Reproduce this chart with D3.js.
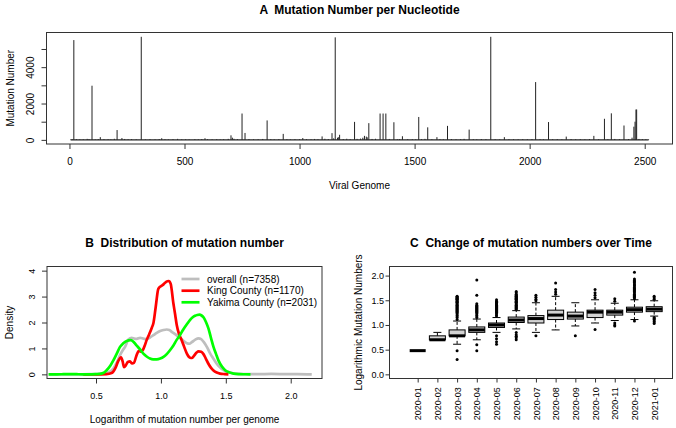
<!DOCTYPE html>
<html><head><meta charset="utf-8">
<script src="https://cdn.jsdelivr.net/npm/d3@7"></script>
<style>
body{margin:0;background:#fff}
svg text{font-family:"Liberation Sans",Arial,sans-serif;fill:#000}
</style></head><body>
<svg id="c" width="676" height="428"></svg>
<script>
// ---------- Panel A: mutation number per nucleotide ----------
const spikePos   = [19, 98, 207, 312, 702, 750, 763, 859, 929, 1098, 1141, 1155, 1174, 1239, 1282, 1301, 1350, 1363, 1375, 1410, 1447, 1518, 1557, 1597, 1643, 1737, 1831, 1890, 2026, 2082, 2159, 2279, 2325, 2355, 2410, 2453, 2458, 2462, 2465];
const spikeCount = [5490, 2980, 540, 5670, 250, 1450, 380, 1070, 330, 190, 370, 5640, 280, 990, 220, 920, 1450, 1450, 1450, 970, 200, 1260, 690, 150, 770, 565, 5670, 150, 3180, 980, 180, 220, 1160, 1460, 790, 725, 1000, 1670, 1670];
const lowPos   = [5, 12, 30, 45, 60, 77, 85, 112, 125, 134, 150, 168, 180, 195, 228, 240, 255, 270, 290, 330, 350, 372, 390, 401, 415, 430, 450, 470, 488, 505, 520, 545, 560, 575, 589, 600, 620, 640, 655, 670, 690, 708, 715, 730, 780, 800, 820, 840, 875, 890, 910, 945, 960, 980, 1000, 1014, 1030, 1050, 1065, 1080, 1110, 1125, 1148, 1165, 1170, 1190, 1205, 1220, 1250, 1265, 1275, 1290, 1294, 1315, 1330, 1390, 1425, 1435, 1470, 1490, 1505, 1530, 1545, 1575, 1610, 1625, 1660, 1680, 1700, 1715, 1755, 1770, 1790, 1810, 1850, 1870, 1910, 1930, 1950, 1970, 1990, 2010, 2045, 2060, 2100, 2120, 2140, 2180, 2200, 2220, 2240, 2260, 2300, 2340, 2370, 2390, 2430, 2445, 2475, 2490, 2505, 2517];
const lowCount = [20, 35, 40, 25, 30, 55, 40, 30, 45, 150, 40, 35, 25, 60, 100, 50, 35, 40, 30, 25, 40, 30, 45, 90, 35, 25, 40, 55, 30, 35, 25, 40, 30, 45, 90, 35, 30, 40, 25, 35, 55, 120, 60, 40, 45, 30, 35, 50, 40, 30, 45, 35, 30, 40, 35, 100, 40, 30, 50, 35, 60, 45, 80, 120, 150, 45, 60, 40, 55, 70, 120, 180, 140, 50, 60, 50, 35, 45, 40, 35, 30, 40, 55, 35, 40, 30, 45, 35, 40, 55, 35, 30, 45, 40, 35, 30, 40, 35, 30, 40, 35, 45, 40, 30, 35, 40, 30, 45, 35, 40, 30, 45, 40, 35, 50, 40, 45, 120, 50, 40, 35, 30];
const xTicksA = [0, 500, 1000, 1500, 2000, 2500];
const yTicksA = [0, 1000, 2000, 3000, 4000, 5000];
const yLabelsA = [0, 2000, 4000];

// ---------- Panel B: density of log mutation number ----------
const overallX = [0.135, 0.3, 0.45, 0.55, 0.6, 0.634, 0.66, 0.685, 0.705, 0.724, 0.75, 0.775, 0.795, 0.814, 0.84, 0.865, 0.89, 0.915, 0.942, 0.968, 0.994, 1.02, 1.045, 1.065, 1.084, 1.11, 1.135, 1.165, 1.2, 1.22, 1.238, 1.265, 1.29, 1.31, 1.328, 1.355, 1.38, 1.405, 1.43, 1.455, 1.482, 1.515, 1.546, 1.6, 1.66, 1.75, 1.85, 1.95, 2.05, 2.162];
const overallY = [0, 0, 0.005, 0.03, 0.08, 0.22, 0.45, 0.74, 0.92, 1.06, 1.35, 1.41, 1.38, 1.37, 1.41, 1.38, 1.35, 1.42, 1.51, 1.6, 1.67, 1.71, 1.73, 1.71, 1.64, 1.55, 1.45, 1.33, 1.2, 1.18, 1.24, 1.34, 1.39, 1.36, 1.26, 1.05, 0.8, 0.6, 0.41, 0.27, 0.16, 0.09, 0.05, 0.02, 0.01, 0.01, 0.015, 0.01, 0.005, 0];
const kingX = [0.402, 0.5, 0.58, 0.62, 0.65, 0.67, 0.693, 0.705, 0.716, 0.73, 0.745, 0.762, 0.778, 0.793, 0.81, 0.829, 0.845, 0.86, 0.875, 0.89, 0.91, 0.93, 0.942, 0.96, 0.98, 1.0, 1.02, 1.04, 1.06, 1.075, 1.096, 1.11, 1.122, 1.14, 1.16, 1.18, 1.2, 1.225, 1.24, 1.256, 1.275, 1.29, 1.31, 1.328, 1.345, 1.366, 1.385, 1.405, 1.43, 1.456, 1.49, 1.52];
const kingY = [0, 0, 0.01, 0.05, 0.25, 0.5, 0.66, 0.5, 0.28, 0.35, 0.48, 0.5, 0.42, 0.45, 0.7, 0.9, 0.88, 0.93, 1.1, 1.32, 1.55, 1.8, 1.97, 2.6, 3.3, 3.4, 3.47, 3.57, 3.6, 3.5, 2.74, 2.3, 1.9, 1.55, 1.32, 1.05, 0.8, 0.64, 0.63, 0.72, 0.84, 0.89, 0.87, 0.78, 0.62, 0.41, 0.26, 0.15, 0.07, 0.03, 0.01, 0];
const yakimaX = [0.135, 0.2, 0.25, 0.3, 0.35, 0.4, 0.45, 0.5, 0.53, 0.56, 0.582, 0.61, 0.634, 0.66, 0.685, 0.71, 0.737, 0.767, 0.79, 0.81, 0.84, 0.865, 0.89, 0.916, 0.94, 0.968, 0.995, 1.02, 1.045, 1.07, 1.095, 1.12, 1.145, 1.17, 1.2, 1.225, 1.245, 1.263, 1.28, 1.297, 1.313, 1.328, 1.347, 1.366, 1.385, 1.405, 1.425, 1.443, 1.47, 1.495, 1.53, 1.56, 1.6, 1.65, 1.69];
const yakimaY = [0, 0, 0.005, 0.01, 0.005, 0, 0, 0.01, 0.02, 0.06, 0.16, 0.33, 0.54, 0.8, 1.06, 1.2, 1.29, 1.32, 1.25, 1.13, 0.96, 0.8, 0.69, 0.61, 0.58, 0.58, 0.61, 0.67, 0.78, 0.93, 1.1, 1.32, 1.5, 1.71, 1.93, 2.1, 2.2, 2.26, 2.29, 2.3, 2.27, 2.2, 2.02, 1.77, 1.42, 1.06, 0.78, 0.54, 0.3, 0.16, 0.07, 0.03, 0.01, 0.003, 0];
const legendLabels = ["overall (n=7358)", "King County (n=1170)", "Yakima County (n=2031)"];
const seriesColors = ["#bebebe", "#ff0000", "#00ff00"];
const xTicksB = [0.5, 1.0, 1.5, 2.0];
const yTicksB = [0, 1, 2, 3, 4];

// ---------- Panel C: boxplots by month ----------
const months = ["2020-01","2020-02","2020-03","2020-04","2020-05","2020-06","2020-07","2020-08","2020-09","2020-10","2020-11","2020-12","2021-01"];
const whiskerLow  = [0.48, 0.70, 0.61, 0.70, 0.85, 0.92, 0.85, 0.90, 0.98, 1.04, 1.09, 1.11, 1.18];
const quart1      = [0.48, 0.70, 0.78, 0.85, 0.95, 1.05, 1.04, 1.11, 1.12, 1.15, 1.20, 1.26, 1.27];
const medians     = [0.48, 0.70, 0.78, 0.90, 1.00, 1.10, 1.13, 1.20, 1.18, 1.26, 1.26, 1.31, 1.32];
const quart3      = [0.48, 0.78, 0.90, 0.96, 1.04, 1.16, 1.19, 1.30, 1.26, 1.30, 1.30, 1.36, 1.37];
const whiskerHigh = [0.48, 0.85, 1.08, 1.12, 1.15, 1.29, 1.45, 1.58, 1.45, 1.51, 1.44, 1.51, 1.49];
const outliers = [
  [],
  [],
  [0.30, 0.48, 1.11, 1.15, 1.18, 1.20, 1.23, 1.26, 1.28, 1.30, 1.32, 1.34, 1.36, 1.38, 1.40, 1.41, 1.43, 1.45, 1.46, 1.48, 1.49, 1.51, 1.52, 1.53, 1.54, 1.56, 1.57, 1.58],
  [0.48, 0.60, 1.15, 1.18, 1.20, 1.23, 1.26, 1.28, 1.30, 1.32, 1.34, 1.36, 1.38, 1.40, 1.43, 1.60, 1.91],
  [0.61, 0.66, 0.72, 0.78, 1.18, 1.20, 1.23, 1.26, 1.28, 1.30, 1.32, 1.34, 1.36, 1.38, 1.40, 1.41, 1.43, 1.45, 1.46, 1.48, 1.51],
  [0.70, 0.74, 0.77, 0.80, 0.85, 1.32, 1.34, 1.36, 1.38, 1.40, 1.41, 1.43, 1.45, 1.46, 1.48, 1.49, 1.51, 1.52, 1.53, 1.54, 1.56, 1.57, 1.58, 1.60, 1.62, 1.65, 1.68],
  [0.78, 1.49, 1.52, 1.56, 1.60],
  [1.62, 1.67, 1.72, 1.85],
  [0.78],
  [0.91, 1.55, 1.60, 1.65, 1.72],
  [0.98, 1.00, 1.04, 1.48, 1.53],
  [1.08, 1.53, 1.56, 1.58, 1.60, 1.62, 1.65, 1.68, 1.70, 1.72, 1.74, 1.76, 1.79, 1.81, 1.83, 1.86, 1.88, 1.90, 1.93, 2.07],
  [1.03, 1.06, 1.08, 1.11, 1.13, 1.15, 1.52, 1.55, 1.58]
];
const yTicksC = [0, 0.5, 1.0, 1.5, 2.0];

// ================= drawing =================
const svg = d3.select("#c");
const FONT = '"Liberation Sans",Arial,sans-serif';
const INK = "#333";

function cleanAxis(g, size) {
  g.attr("font-family", FONT).attr("font-size", size);
  g.select(".domain").remove();
  g.selectAll(".tick line").attr("stroke", INK);
  g.selectAll(".tick text").attr("fill", "#000");
}
function frame(x0, y0, x1, y1) {
  svg.append("rect").attr("x", x0).attr("y", y0).attr("width", x1 - x0).attr("height", y1 - y0)
    .attr("fill", "none").attr("stroke", INK).attr("stroke-width", 1);
}
function title(txt, x, y) {
  svg.append("text").attr("x", x).attr("y", y).attr("text-anchor", "middle")
    .style("white-space", "pre")
    .attr("font-size", 12).attr("font-weight", "bold").text(txt);
}
function label(txt, x, y, rot) {
  const t = svg.append("text").attr("text-anchor", "middle").attr("font-size", 10).text(txt);
  if (rot) t.attr("transform", `translate(${x},${y}) rotate(-90)`);
  else t.attr("x", x).attr("y", y);
}
function rotatedYLabels(g) {
  g.selectAll(".tick text").attr("transform", "rotate(-90)").attr("x", 0).attr("y", -12.5)
    .attr("dy", null).attr("text-anchor", "middle");
}

// ---- Panel A ----
const A = {l: 46.5, r: 672.5, t: 32.5, b: 144};
const xA = d3.scaleLinear().domain([-99.8, 2620.8]).range([A.l, A.r]);
const yA = d3.scaleLinear().domain([-227, 5907]).range([A.b, A.t]);
const barsA = lowPos.map((p, i) => ({p, c: lowCount[i]})).concat(spikePos.map((p, i) => ({p, c: spikeCount[i]})));
svg.append("line").attr("x1", xA(d3.min(lowPos))).attr("x2", xA(d3.max(lowPos)))
  .attr("y1", yA(0)).attr("y2", yA(0)).attr("stroke", "#222").attr("stroke-width", 1.3);
svg.append("g").selectAll("line").data(barsA).join("line")
  .attr("x1", d => xA(d.p)).attr("x2", d => xA(d.p))
  .attr("y1", yA(0)).attr("y2", d => yA(d.c))
  .attr("stroke", "#222").attr("stroke-width", 1);
frame(A.l, A.t, A.r, A.b);
const gAy = svg.append("g").attr("transform", `translate(${A.l},0)`)
  .call(d3.axisLeft(yA).tickValues(yTicksA).tickSize(5).tickFormat(d => yLabelsA.includes(d) ? d : ""));
cleanAxis(gAy, 10); rotatedYLabels(gAy);
const gAx = svg.append("g").attr("transform", `translate(0,${A.b})`)
  .call(d3.axisBottom(xA).tickValues(xTicksA).tickSize(5).tickFormat(d3.format("d")));
cleanAxis(gAx, 10); gAx.selectAll(".tick text").attr("y", 14);
title("A  Mutation Number per Nucleotide", (A.l + A.r) / 2, 14);
label("Viral Genome", (A.l + A.r) / 2, 189);
label("Mutation Number", 13.5, (A.t + A.b) / 2, true);

// ---- Panel B ----
const B = {l: 47, r: 322, t: 266.5, b: 378.5};
const xB = d3.scaleLinear().domain([0.1225, 2.241]).range([B.l, B.r]);
const yB = d3.scaleLinear().domain([-0.16, 4.16]).range([B.b, B.t]);
const densSeries = [
  overallX.map((x, i) => [x, overallY[i]]),
  kingX.map((x, i) => [x, kingY[i]]),
  yakimaX.map((x, i) => [x, yakimaY[i]])
];
const lineB = d3.line().x(d => xB(d[0])).y(d => yB(d[1])).curve(d3.curveMonotoneX);
svg.append("g").selectAll("path").data(densSeries).join("path")
  .attr("d", lineB).attr("fill", "none").attr("stroke", (d, i) => seriesColors[i])
  .attr("stroke-width", 2.7).attr("stroke-linejoin", "round");
frame(B.l, B.t, B.r, B.b);
const gBy = svg.append("g").attr("transform", `translate(${B.l},0)`)
  .call(d3.axisLeft(yB).tickValues(yTicksB).tickSize(5).tickFormat(d3.format("d")));
cleanAxis(gBy, 9); rotatedYLabels(gBy);
const gBx = svg.append("g").attr("transform", `translate(0,${B.b})`)
  .call(d3.axisBottom(xB).tickValues(xTicksB).tickSize(5).tickFormat(d3.format(".1f")));
cleanAxis(gBx, 9); gBx.selectAll(".tick text").attr("y", 14);
title("B  Distribution of mutation number", (B.l + B.r) / 2, 246.5);
label("Logarithm of mutation number per genome", (B.l + B.r) / 2, 423);
label("Density", 12.5, (B.t + B.b) / 2, true);
const legY = [279, 290.7, 302.3];
const leg = svg.append("g").selectAll("g").data(legendLabels).join("g")
  .attr("transform", (d, i) => `translate(0,${legY[i]})`);
leg.append("line").attr("x1", 181.5).attr("x2", 199.5).attr("y1", 0).attr("y2", 0)
  .attr("stroke", (d, i) => seriesColors[i]).attr("stroke-width", 2.7);
leg.append("text").attr("x", 207).attr("y", 0).attr("dy", "0.35em").attr("font-size", 10).text(d => d);

// ---- Panel C ----
const C = {l: 389.5, r: 672.5, t: 266.5, b: 378.5};
const xC = d3.scaleLinear().domain([-0.43, 13.93]).range([C.l, C.r]);
const yC = d3.scaleLinear().domain([-0.084, 2.184]).range([C.b, C.t]);
const bw = 16, cw = 8;
const boxes = months.map((m, i) => ({i: i + 1, lo: whiskerLow[i], q1: quart1[i], med: medians[i], q3: quart3[i], hi: whiskerHigh[i], out: outliers[i]}));
const gC = svg.append("g");
const bx = gC.selectAll("g").data(boxes).join("g");
bx.append("line").attr("x1", d => xC(d.i)).attr("x2", d => xC(d.i)).attr("y1", d => yC(d.q3)).attr("y2", d => yC(d.hi))
  .attr("stroke", "#000").attr("stroke-dasharray", "3,2");
bx.append("line").attr("x1", d => xC(d.i)).attr("x2", d => xC(d.i)).attr("y1", d => yC(d.q1)).attr("y2", d => yC(d.lo))
  .attr("stroke", "#000").attr("stroke-dasharray", "3,2");
bx.append("line").attr("x1", d => xC(d.i) - cw / 2).attr("x2", d => xC(d.i) + cw / 2).attr("y1", d => yC(d.hi)).attr("y2", d => yC(d.hi)).attr("stroke", "#000");
bx.append("line").attr("x1", d => xC(d.i) - cw / 2).attr("x2", d => xC(d.i) + cw / 2).attr("y1", d => yC(d.lo)).attr("y2", d => yC(d.lo)).attr("stroke", "#000");
bx.append("rect").attr("x", d => xC(d.i) - bw / 2).attr("width", bw)
  .attr("y", d => yC(d.q3)).attr("height", d => yC(d.q1) - yC(d.q3))
  .attr("fill", "#d3d3d3").attr("stroke", "#000").attr("stroke-width", 1);
bx.append("line").attr("x1", d => xC(d.i) - bw / 2).attr("x2", d => xC(d.i) + bw / 2).attr("y1", d => yC(d.med)).attr("y2", d => yC(d.med))
  .attr("stroke", "#000").attr("stroke-width", 3);
bx.selectAll("circle").data(d => d.out.map(v => ({i: d.i, v}))).join("circle")
  .attr("cx", d => xC(d.i)).attr("cy", d => yC(d.v)).attr("r", 1.5).attr("fill", "#000");
frame(C.l, C.t, C.r, C.b);
const gCy = svg.append("g").attr("transform", `translate(${C.l},0)`)
  .call(d3.axisLeft(yC).tickValues(yTicksC).tickSize(4).tickPadding(1.5).tickFormat(d3.format(".1f")));
cleanAxis(gCy, 9);
const gCx = svg.append("g").attr("transform", `translate(0,${C.b})`)
  .call(d3.axisBottom(xC).tickValues(d3.range(1, months.length + 1)).tickSize(4).tickFormat(i => months[i - 1]));
cleanAxis(gCx, 9);
gCx.selectAll(".tick text").attr("transform", "rotate(-90)").attr("x", -8.8).attr("y", 0)
  .attr("dy", "0.35em").attr("text-anchor", "end");
title("C  Change of mutation numbers over Time", (C.l + C.r) / 2, 246.5);
label("Logarithmic Mutation Numbers", 362, (C.t + C.b) / 2, true);
</script></body></html>
